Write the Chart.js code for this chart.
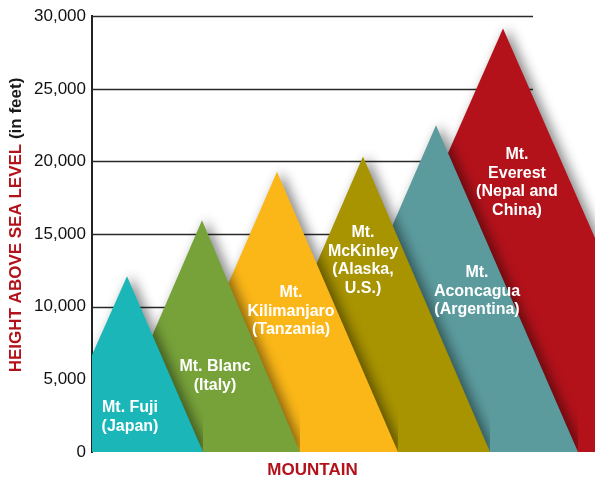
<!DOCTYPE html>
<html>
<head>
<meta charset="utf-8">
<script src="https://cdn.jsdelivr.net/npm/chart.js@4"></script>
<style>
  html, body { margin: 0; padding: 0; background: #fff; }
  #wrap { width: 603px; height: 485px; }
</style>
</head>
<body>
<div id="wrap"><canvas id="chart" width="603" height="485"></canvas></div>
<script>
// Mountain data
const mountainNames = ["Mt. Fuji", "Mt. Blanc", "Mt. Kilimanjaro", "Mt. McKinley", "Mt. Aconcagua", "Mt. Everest"];
const heightsFt = [12100, 15950, 19300, 20350, 22500, 29150];
const peakX = [35, 110, 185, 271, 344, 411];
const baseLeftX = [-43, 10, 63, 143, 202, 224];
const baseRightX = [111, 208, 306, 398, 486, 597];
const labelLines = [
  ["Mt. Fuji", "(Japan)"],
  ["Mt. Blanc", "(Italy)"],
  ["Mt.", "Kilimanjaro", "(Tanzania)"],
  ["Mt.", "McKinley", "(Alaska,", "U.S.)"],
  ["Mt.", "Aconcagua", "(Argentina)"],
  ["Mt.", "Everest", "(Nepal and", "China)"]
];
const yTickValues = [0, 5000, 10000, 15000, 20000, 25000, 30000];

// Styles
const colors = ["#1ab6b8", "#77a23a", "#fbb718", "#a89300", "#5b9b9e", "#b3121b"];
const labelAnchorX = [38, 123, 199, 271, 385, 425];
const labelAnchorY = [3030, 5850, 10940, 15070, 12320, 20440];
const gridEndX = 441;
const RED = "#b3121b";

const datasets = mountainNames.map((name, i) => ({
  label: name,
  data: [
    { x: baseLeftX[i], y: 0 },
    { x: peakX[i], y: heightsFt[i] },
    { x: baseRightX[i], y: 0 }
  ],
  backgroundColor: colors[i],
  borderWidth: 0,
  pointRadius: 0,
  tension: 0,
  fill: "origin"
}));

// gridlines that stop short of the right edge + soft shadow on mountains
const gridAndShadow = {
  id: "gridAndShadow",
  beforeDatasetsDraw(chart) {
    const { ctx, chartArea, scales } = chart;
    const right = scales.x.getPixelForValue(gridEndX);
    ctx.save();
    ctx.strokeStyle = "#2a2a2a";
    ctx.lineWidth = 1.6;
    yTickValues.forEach((v) => {
      if (v === 0) return;
      const y = Math.round(scales.y.getPixelForValue(v)) + 0.5;
      ctx.beginPath();
      ctx.moveTo(chartArea.left, y);
      ctx.lineTo(right, y);
      ctx.stroke();
    });
    ctx.restore();
    ctx.save();
    ctx.shadowColor = "rgba(0,0,0,0.45)";
    ctx.shadowBlur = 12;
    ctx.shadowOffsetX = 5;
    ctx.shadowOffsetY = 0;
  },
  afterDatasetsDraw(chart) {
    chart.ctx.restore();
  }
};

// mountain names and axis titles
const textPlugin = {
  id: "textPlugin",
  afterDraw(chart) {
    const { ctx, chartArea, scales } = chart;
    ctx.save();
    ctx.fillStyle = "#fff";
    ctx.font = "bold 16px 'Liberation Sans', Arial, sans-serif";
    ctx.textAlign = "center";
    ctx.textBaseline = "middle";
    labelLines.forEach((lines, i) => {
      const x = scales.x.getPixelForValue(labelAnchorX[i]);
      const y0 = scales.y.getPixelForValue(labelAnchorY[i]);
      lines.forEach((t, k) => ctx.fillText(t, x, y0 + k * 18.5));
    });

    // x title
    const right = scales.x.getPixelForValue(gridEndX);
    ctx.fillStyle = RED;
    ctx.font = "bold 17px 'Liberation Sans', Arial, sans-serif";
    ctx.fillText("MOUNTAIN", (chartArea.left + right) / 2, 470);

    // y title, two colours
    const partA = "HEIGHT ABOVE SEA LEVEL ";
    const partB = "(in feet)";
    ctx.font = "bold 17px 'Liberation Sans', Arial, sans-serif";
    const wA = ctx.measureText(partA).width;
    const wB = ctx.measureText(partB).width;
    ctx.translate(16, 225);
    ctx.rotate(-Math.PI / 2);
    ctx.textAlign = "left";
    const start = -(wA + wB) / 2;
    ctx.fillStyle = RED;
    ctx.fillText(partA, start, 0);
    ctx.fillStyle = "#1a1a1a";
    ctx.fillText(partB, start + wA, 0);
    ctx.restore();
  }
};

new Chart(document.getElementById("chart"), {
  type: "line",
  data: { datasets },
  options: {
    responsive: false,
    animation: false,
    events: [],
    layout: { padding: { top: 16, right: 8, bottom: 33, left: 0 } },
    plugins: {
      legend: { display: false },
      tooltip: { enabled: false },
      filler: { drawTime: "beforeDatasetDraw" }
    },
    scales: {
      x: {
        type: "linear",
        display: false,
        min: 0,
        max: 503
      },
      y: {
        min: 0,
        max: 30000,
        afterFit(scale) { scale.width = 92; },
        afterBuildTicks(scale) { scale.ticks = yTickValues.map((v) => ({ value: v })); },
        grid: { display: false, drawTicks: false },
        border: { display: true, color: "#222", width: 2 },
        ticks: {
          padding: 6,
          color: "#111",
          font: { family: "'Liberation Sans', Arial, sans-serif", size: 17 },
          callback: (v) => v.toLocaleString("en-US")
        }
      }
    }
  },
  plugins: [gridAndShadow, textPlugin]
});
</script>
</body>
</html>
